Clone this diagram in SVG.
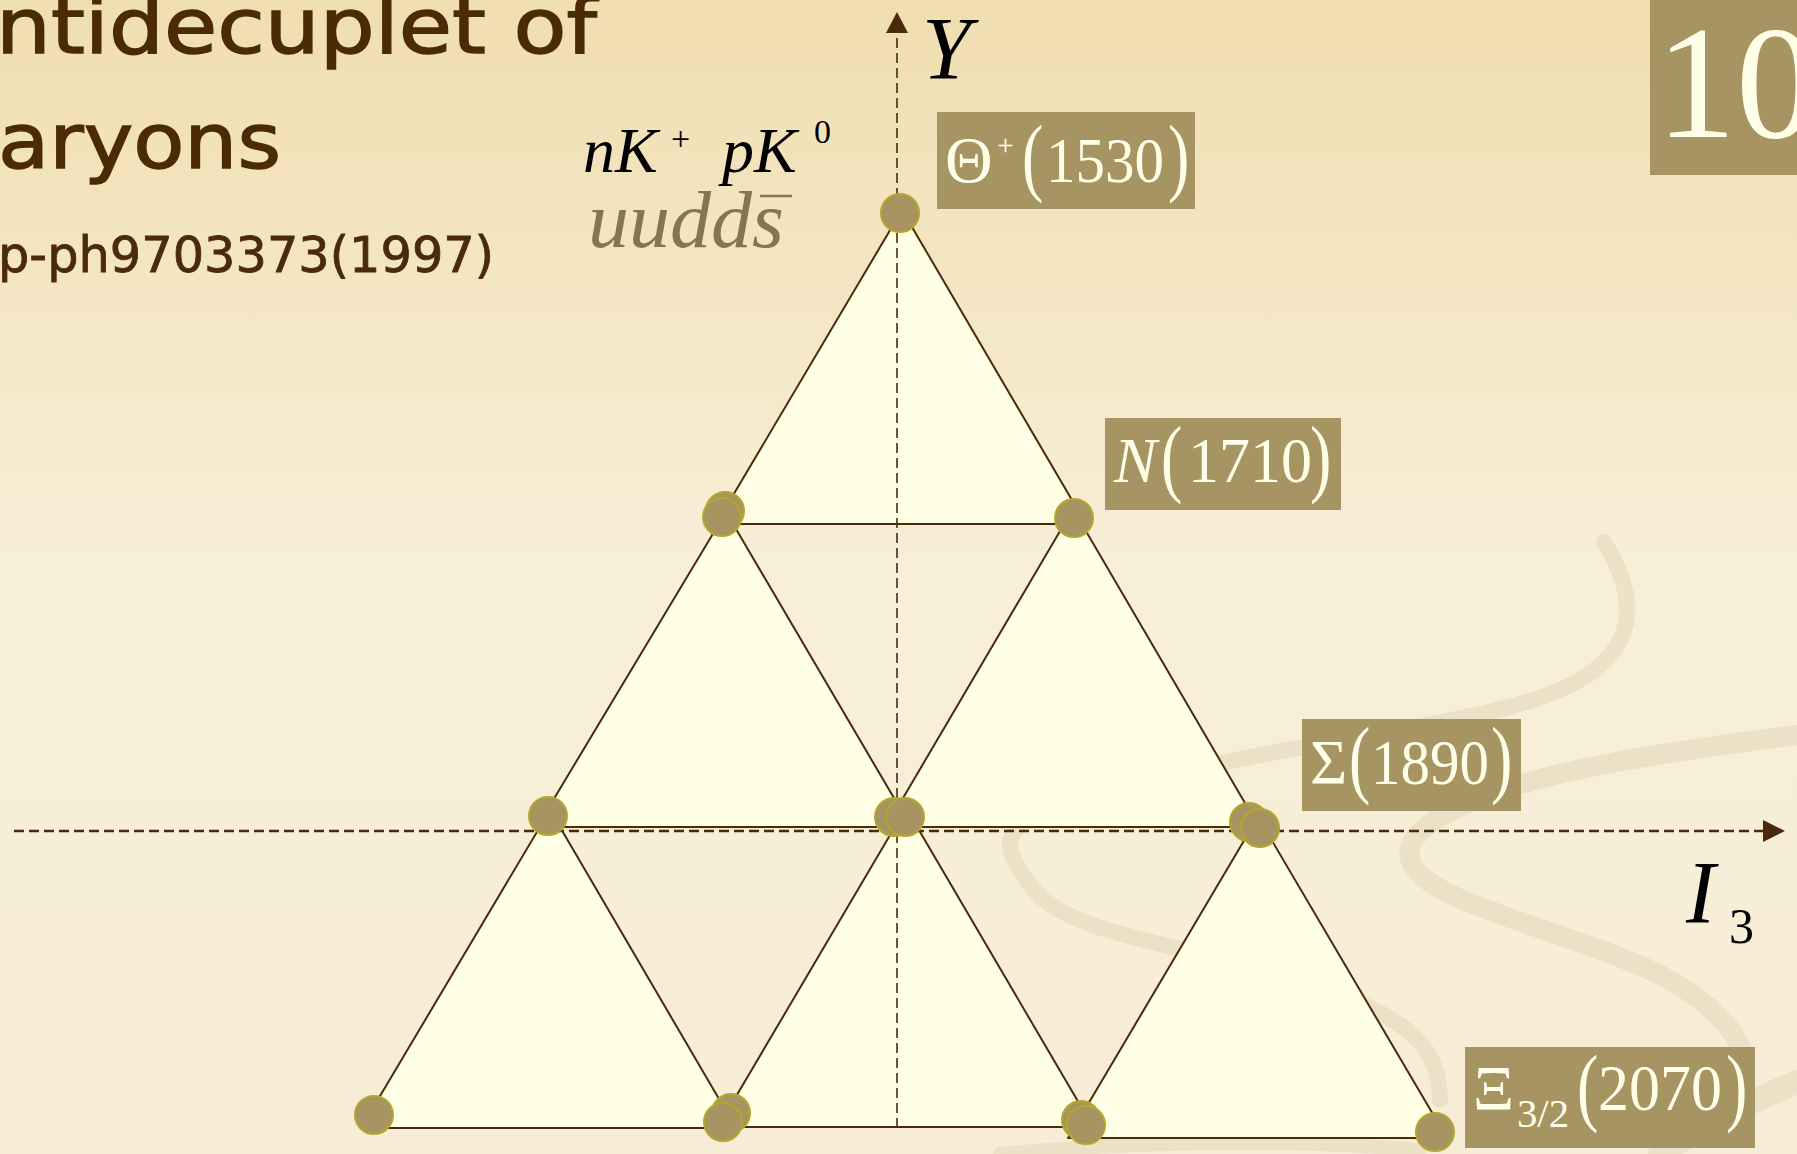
<svg xmlns="http://www.w3.org/2000/svg" width="1797" height="1154" viewBox="0 0 1797 1154">
  <defs>
    <linearGradient id="bg" x1="0" y1="0" x2="0" y2="1">
      <stop offset="0" stop-color="#EFDEB0"/>
      <stop offset="0.3" stop-color="#F5E8C8"/>
      <stop offset="0.5" stop-color="#F8EFD9"/>
      <stop offset="1" stop-color="#F7EDD6"/>
    </linearGradient>
  </defs>
  <style>
    .tri { fill: #FFFFE6; stroke: #4A2A0A; stroke-width: 2; stroke-linejoin: round; }
    .dot { fill: #A69462; stroke: #B4A72C; stroke-width: 2; }
    .axis { fill: none; stroke: #4A2A0A; stroke-dasharray: 10 5; }
    .head { fill: #4A2A0A; }
    .box { fill: #A69462; }
    .lbl { font-family: "Liberation Serif", "Times New Roman", serif; fill: #FFFFE8; }
    .it { font-family: "Liberation Serif", "Times New Roman", serif; fill: #000000; font-style: italic; }
    .up { font-family: "Liberation Serif", "Times New Roman", serif; fill: #000000; font-style: normal; }
    .quark { font-family: "Liberation Serif", "Times New Roman", serif; fill: #857552; font-style: italic; }
    .title { font-family: "DejaVu Sans", "Noto Sans", sans-serif; fill: #4B2A08; stroke: #4B2A08; stroke-width: 1.4; }
    .ribbon { fill: none; stroke: #E2D8BA; stroke-linecap: round; opacity: 0.6; }
  </style>

  <rect x="0" y="0" width="1797" height="1154" fill="url(#bg)"/>

  <g id="background-ribbons">
    <path class="ribbon" stroke-width="16" d="M1604,542 C1640,600 1640,655 1560,690 S1300,740 1150,780 S990,830 1030,885 S1200,945 1300,980 S1440,1040 1440,1100"/>
    <path class="ribbon" stroke-width="20" d="M1797,735 C1700,748 1560,765 1475,800 S1385,870 1475,905 S1650,960 1700,1000 S1745,1060 1740,1085"/>
    <path class="ribbon" stroke-width="24" d="M1797,1082 C1760,1098 1720,1115 1660,1154"/>
    <path class="ribbon" stroke-width="14" d="M1000,1154 C1150,1140 1300,1140 1420,1150"/>
  </g>

  <g id="title">
    <text class="title" x="-4" y="53" font-size="76" textLength="601" lengthAdjust="spacingAndGlyphs">ntidecuplet of</text>
    <text class="title" x="-2" y="168" font-size="76" textLength="283" lengthAdjust="spacingAndGlyphs">aryons</text>
    <text class="title" x="-2" y="272" font-size="50" textLength="496" lengthAdjust="spacingAndGlyphs" style="stroke-width:0.8">p-ph9703373(1997)</text>
  </g>

  <g id="badge-10">
    <rect class="box" x="1650" y="0" width="147" height="175"/>
    <text class="lbl" x="1656" y="137" font-size="160">10</text>
  </g>

  <g id="lattice">
    <polygon id="t1" class="tri" points="902,210 716,524 1086,524"/>
    <polygon id="t2" class="tri" points="726,512 537,827 911,827"/>
    <polygon id="t3" class="tri" points="1073,509 886,827 1259,827"/>
    <polygon id="t4" class="tri" points="550,810 361,1128 736,1128"/>
    <polygon id="t5" class="tri" points="906,808 718,1127 1093,1127"/>
    <polygon id="t6" class="tri" points="1258,817 1068,1138 1447,1138"/>
  </g>

  <g id="connectors">
    <line class="axis" x1="14" y1="831" x2="1766" y2="831" stroke-width="2.5"/>
    <polygon class="head" points="1785,831 1763,820 1763,842"/>
    <line class="axis" x1="897" y1="1128" x2="897" y2="32" stroke-width="1.6"/>
    <polygon class="head" points="897,12 886,33 908,33"/>
  </g>

  <g id="nodes">
    <g id="n-theta"><circle class="dot" cx="900" cy="213" r="19"/></g>
    <g id="n-row2-left"><circle class="dot" cx="725" cy="511" r="19"/><circle class="dot" cx="722" cy="517" r="19"/></g>
    <g id="n-row2-right"><circle class="dot" cx="1074" cy="518" r="19"/></g>
    <g id="n-row3-left"><circle class="dot" cx="548" cy="816" r="19"/></g>
    <g id="n-row3-center"><circle class="dot" cx="894" cy="817" r="19"/><circle class="dot" cx="905" cy="817" r="19"/></g>
    <g id="n-row3-right"><circle class="dot" cx="1249" cy="822" r="19"/><circle class="dot" cx="1260" cy="828" r="19"/></g>
    <g id="n-row4-1"><circle class="dot" cx="374" cy="1115" r="19"/></g>
    <g id="n-row4-2"><circle class="dot" cx="731" cy="1113" r="19"/><circle class="dot" cx="723" cy="1122" r="19"/></g>
    <g id="n-row4-3"><circle class="dot" cx="1081" cy="1120" r="19"/><circle class="dot" cx="1086" cy="1125" r="19"/></g>
    <g id="n-row4-4"><circle class="dot" cx="1435" cy="1132" r="19"/></g>
  </g>

  <g id="label-theta">
    <rect class="box" x="937" y="112" width="258" height="97"/>
    <text class="lbl" x="945" y="182" font-size="66">Θ</text>
    <text class="lbl" x="997" y="155" font-size="30">+</text>
    <text class="lbl" transform="translate(1022,184.5) scale(1,1.35)" font-size="64">(</text>
    <text class="lbl" x="1046" y="182" font-size="64" textLength="118" lengthAdjust="spacingAndGlyphs">1530</text>
    <text class="lbl" transform="translate(1168,184.5) scale(1,1.35)" font-size="64">)</text>
  </g>

  <g id="label-n">
    <rect class="box" x="1105" y="418" width="236" height="92"/>
    <text class="lbl" x="1114" y="482" font-size="64" font-style="italic">N</text>
    <text class="lbl" transform="translate(1161,485.5) scale(1,1.35)" font-size="64">(</text>
    <text class="lbl" x="1188" y="482" font-size="64" textLength="124" lengthAdjust="spacingAndGlyphs">1710</text>
    <text class="lbl" transform="translate(1310,485.5) scale(1,1.35)" font-size="64">)</text>
  </g>

  <g id="label-sigma">
    <rect class="box" x="1302" y="719" width="219" height="92"/>
    <text class="lbl" x="1310" y="784" font-size="64">Σ</text>
    <text class="lbl" transform="translate(1349,786.5) scale(1,1.35)" font-size="64">(</text>
    <text class="lbl" x="1371" y="784" font-size="64" textLength="118" lengthAdjust="spacingAndGlyphs">1890</text>
    <text class="lbl" transform="translate(1491,786.5) scale(1,1.35)" font-size="64">)</text>
  </g>

  <g id="label-xi">
    <rect class="box" x="1465" y="1047" width="290" height="101"/>
    <text class="lbl" x="1473" y="1110" font-size="64">Ξ</text>
    <text class="lbl" x="1517" y="1127" font-size="40" textLength="52" lengthAdjust="spacingAndGlyphs">3/2</text>
    <text class="lbl" transform="translate(1577,1114.5) scale(1,1.35)" font-size="64">(</text>
    <text class="lbl" x="1598" y="1110" font-size="66" textLength="124" lengthAdjust="spacingAndGlyphs">2070</text>
    <text class="lbl" transform="translate(1726,1114.5) scale(1,1.35)" font-size="64">)</text>
  </g>

  <g id="axis-labels">
    <text class="it" x="922" y="78" font-size="88">Y</text>
    <text class="it" x="1686" y="922" font-size="88">I</text>
    <text class="up" x="1729" y="943" font-size="50">3</text>
  </g>

  <g id="quark-content">
    <text class="it" x="583" y="172" font-size="64">nK</text>
    <text class="up" x="671" y="150" font-size="34">+</text>
    <text class="it" x="722" y="172" font-size="64">pK</text>
    <text class="up" x="814" y="143" font-size="34">0</text>
    <text class="quark" x="588" y="247" font-size="80" textLength="196" lengthAdjust="spacingAndGlyphs">uudds</text>
    <line x1="760" y1="196" x2="792" y2="196" stroke="#857552" stroke-width="2.5"/>
  </g>
</svg>
